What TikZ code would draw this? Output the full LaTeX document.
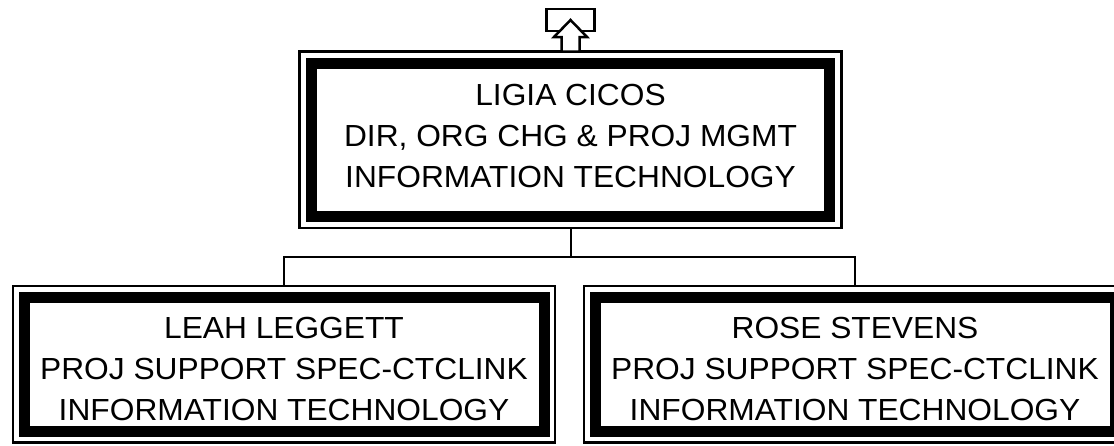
\documentclass[tikz,border=0pt]{standalone}
\usepackage{fontspec}
\setmainfont{Liberation Sans}[FakeStretch=1.04]
\begin{document}
\begin{tikzpicture}[x=1pt,y=-1pt,
  frame/.style={draw, line width=2.5pt, minimum width=542pt, inner sep=0pt, outer sep=0pt},
  band/.style={line width=11pt},
  boxtext/.style={align=center, font=\fontsize{30.5}{41}\selectfont, inner sep=0pt},
  conn/.style={line width=2pt}]
\fill[white] (0,0) rectangle (1114,445);
\useasboundingbox (0,0) rectangle (1114,445);
% top box
\node[frame, minimum height=176.5pt] (top) at (570.5,139.75) {};
\draw[band] ([xshift=12pt,yshift=-12pt]top.north west) rectangle ([xshift=-12pt,yshift=12pt]top.south east);
\node[boxtext] (toptext) at (570.5,135.5) {LIGIA CICOS\\DIR, ORG CHG \& PROJ MGMT\\INFORMATION TECHNOLOGY};
% left box
\node[frame, minimum height=156.5pt] (left) at (284,364.25) {};
\draw[band] ([xshift=11pt,yshift=-11pt]left.north west) rectangle ([xshift=-11pt,yshift=11pt]left.south east);
\node[boxtext] (lefttext) at (284,368.5) {LEAH LEGGETT\\PROJ SUPPORT SPEC-CTCLINK\\INFORMATION TECHNOLOGY};
% right box
\node[frame, minimum height=156.5pt] (right) at (855,364.25) {};
\draw[band] ([xshift=11pt,yshift=-11pt]right.north west) rectangle ([xshift=-11pt,yshift=11pt]right.south east);
\node[boxtext] (righttext) at (855,368.5) {ROSE STEVENS\\PROJ SUPPORT SPEC-CTCLINK\\INFORMATION TECHNOLOGY};
% connectors
\coordinate (bus) at (570.5,257);
\draw[conn] (top.south) -- (bus);
\draw[conn] (left.north) |- (bus) -| (right.north);
% up marker
\node[draw, line width=2.5pt, minimum width=48pt, minimum height=22pt, inner sep=0pt, outer sep=0pt] (mark) at (570.5,20) {};
\draw[line width=2.5pt, fill=white, line join=miter]
  (561.5,51.5) -- (561.5,37) -- (554,37) -- (570.5,20) -- (587,37) -- (579.5,37) -- (579.5,51.5) -- cycle;
\end{tikzpicture}
\end{document}
